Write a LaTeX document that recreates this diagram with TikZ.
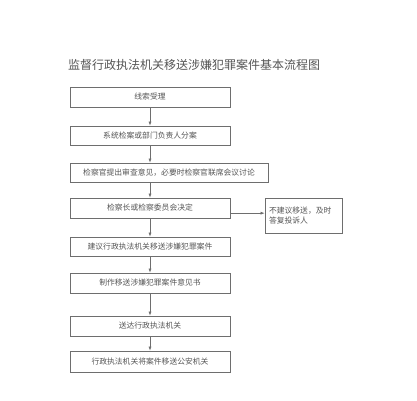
\documentclass[tikz,border=0pt]{standalone}
\usepackage{fontspec}
\setmainfont{Noto Sans CJK SC}
\usetikzlibrary{arrows.meta,calc}
\definecolor{ln}{HTML}{6E6E6E}
\definecolor{tx}{HTML}{555555}
\begin{document}
\begin{tikzpicture}[x=1pt,y=-1pt,
  box/.style={draw=ln,line width=0.7pt,text=tx,font=\fontsize{7.8}{9.5}\selectfont,inner sep=0pt},
  arr/.style={draw=ln,line width=0.6pt,-{Latex[length=4pt,width=3pt]}}]
\useasboundingbox[fill=white] (0,0) rectangle (417,400);
\node[text=tx,font=\fontsize{12}{14}\selectfont] (title) at (194,65) {监督行政执法机关移送涉嫌犯罪案件基本流程图};
\node[box,minimum width=160pt,minimum height=20pt] (b1) at (150,97) {线索受理};
\node[box,minimum width=160pt,minimum height=19pt] (b2) at (150,135.5) {系统检案或部门负责人分案};
\node[box,minimum width=198pt,minimum height=19pt] (b3) at (169,172.5) {检察官提出审查意见，必要时检察官联席会议讨论};
\node[box,minimum width=160pt,minimum height=20pt] (b4) at (150,208) {检察长或检察委员会决定};
\node[box,minimum width=160pt,minimum height=19pt] (b5) at (150,246.5) {建议行政执法机关移送涉嫌犯罪案件};
\node[box,minimum width=160pt,minimum height=20pt] (b6) at (150,283) {制作移送涉嫌犯罪案件意见书};
\node[box,minimum width=160pt,minimum height=20pt] (b7) at (150,326) {送达行政执法机关};
\node[box,minimum width=160pt,minimum height=21pt] (b8) at (150,361.5) {行政执法机关将案件移送公安机关};
\node[box,minimum width=77pt,minimum height=35pt,align=left,text width=69pt,inner xsep=4pt] (s) at (303.5,215.5) {不建议移送，及时\\答复投诉人};
\draw[arr] (b1) -- (b2);
\draw[arr] (b2) -- (b2 |- b3.north);
\draw[arr] (b2 |- b3.south) -- (b4);
\draw[arr] (b4) -- (b5);
\draw[arr] (b5) -- (b6);
\draw[arr] (b6) -- (b7);
\draw[arr] (b7) -- (b8);
\coordinate (b4r) at ($(b4.north east)!0.75!(b4.south east)$);
\draw[arr] (b4r) -- (b4r -| s.west);
\end{tikzpicture}
\end{document}
